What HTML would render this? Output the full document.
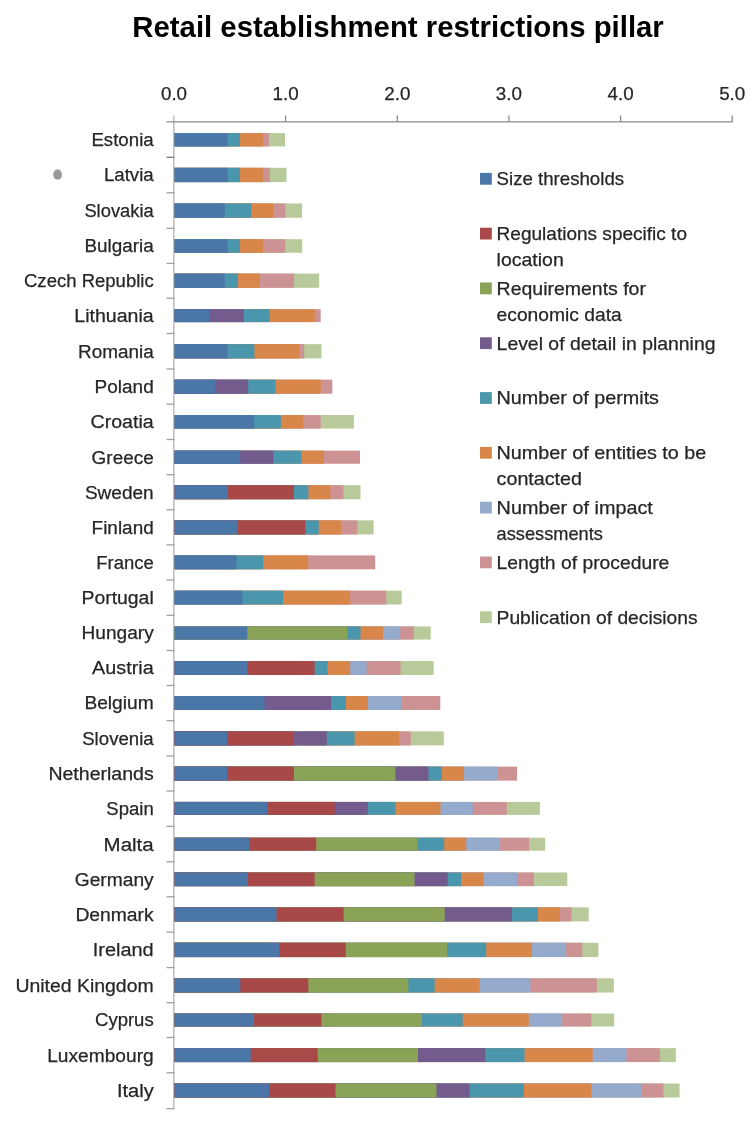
<!DOCTYPE html><html><head><meta charset="utf-8"><style>html,body{margin:0;padding:0;background:#fff;}svg{display:block;will-change:transform;}</style></head><body>
<svg width="754" height="1121" viewBox="0 0 754 1121" font-family="&quot;Liberation Sans&quot;, sans-serif">
<rect x="0" y="0" width="754" height="1121" fill="#fff"/>
<text x="132.3" y="37.3" font-size="30" font-weight="bold" fill="#000" textLength="531.5" lengthAdjust="spacingAndGlyphs">Retail establishment restrictions pillar</text>
<text x="174.0" y="100.3" font-size="18.8" fill="#262626" stroke="#262626" stroke-width="0.25" text-anchor="middle">0.0</text>
<text x="285.6" y="100.3" font-size="18.8" fill="#262626" stroke="#262626" stroke-width="0.25" text-anchor="middle">1.0</text>
<text x="397.3" y="100.3" font-size="18.8" fill="#262626" stroke="#262626" stroke-width="0.25" text-anchor="middle">2.0</text>
<text x="508.9" y="100.3" font-size="18.8" fill="#262626" stroke="#262626" stroke-width="0.25" text-anchor="middle">3.0</text>
<text x="620.6" y="100.3" font-size="18.8" fill="#262626" stroke="#262626" stroke-width="0.25" text-anchor="middle">4.0</text>
<text x="732.2" y="100.3" font-size="18.8" fill="#262626" stroke="#262626" stroke-width="0.25" text-anchor="middle">5.0</text>
<line x1="173.8" y1="115.5" x2="173.8" y2="1108.9" stroke="#b8b8b8" stroke-width="1.4"/>
<g stroke="#8c8c8c" stroke-width="1.3" fill="none">
<line x1="166.5" y1="121.9" x2="732.7" y2="121.9"/>
<line x1="285.6" y1="115.5" x2="285.6" y2="121.9"/>
<line x1="397.3" y1="115.5" x2="397.3" y2="121.9"/>
<line x1="508.9" y1="115.5" x2="508.9" y2="121.9"/>
<line x1="620.6" y1="115.5" x2="620.6" y2="121.9"/>
<line x1="732.2" y1="115.5" x2="732.2" y2="121.9"/>
</g>
<line x1="166.5" y1="157.3" x2="174.4" y2="157.3" stroke="#7a7a7a" stroke-width="1.3"/>
<line x1="166.5" y1="192.8" x2="174.4" y2="192.8" stroke="#a0a0a0" stroke-width="1.3"/>
<line x1="166.5" y1="228.3" x2="174.4" y2="228.3" stroke="#a0a0a0" stroke-width="1.3"/>
<line x1="166.5" y1="263.4" x2="174.4" y2="263.4" stroke="#a0a0a0" stroke-width="1.3"/>
<line x1="166.5" y1="298.2" x2="174.4" y2="298.2" stroke="#a0a0a0" stroke-width="1.3"/>
<line x1="166.5" y1="333.5" x2="174.4" y2="333.5" stroke="#a0a0a0" stroke-width="1.3"/>
<line x1="166.5" y1="369.0" x2="174.4" y2="369.0" stroke="#a0a0a0" stroke-width="1.3"/>
<line x1="166.5" y1="404.2" x2="174.4" y2="404.2" stroke="#a0a0a0" stroke-width="1.3"/>
<line x1="166.5" y1="439.5" x2="174.4" y2="439.5" stroke="#a0a0a0" stroke-width="1.3"/>
<line x1="166.5" y1="474.7" x2="174.4" y2="474.7" stroke="#a0a0a0" stroke-width="1.3"/>
<line x1="166.5" y1="509.8" x2="174.4" y2="509.8" stroke="#a0a0a0" stroke-width="1.3"/>
<line x1="166.5" y1="544.9" x2="174.4" y2="544.9" stroke="#a0a0a0" stroke-width="1.3"/>
<line x1="166.5" y1="580.0" x2="174.4" y2="580.0" stroke="#a0a0a0" stroke-width="1.3"/>
<line x1="166.5" y1="615.3" x2="174.4" y2="615.3" stroke="#a0a0a0" stroke-width="1.3"/>
<line x1="166.5" y1="650.5" x2="174.4" y2="650.5" stroke="#a0a0a0" stroke-width="1.3"/>
<line x1="166.5" y1="685.5" x2="174.4" y2="685.5" stroke="#a0a0a0" stroke-width="1.3"/>
<line x1="166.5" y1="720.7" x2="174.4" y2="720.7" stroke="#a0a0a0" stroke-width="1.3"/>
<line x1="166.5" y1="756.0" x2="174.4" y2="756.0" stroke="#a0a0a0" stroke-width="1.3"/>
<line x1="166.5" y1="791.0" x2="174.4" y2="791.0" stroke="#a0a0a0" stroke-width="1.3"/>
<line x1="166.5" y1="826.3" x2="174.4" y2="826.3" stroke="#a0a0a0" stroke-width="1.3"/>
<line x1="166.5" y1="861.8" x2="174.4" y2="861.8" stroke="#a0a0a0" stroke-width="1.3"/>
<line x1="166.5" y1="896.8" x2="174.4" y2="896.8" stroke="#a0a0a0" stroke-width="1.3"/>
<line x1="166.5" y1="932.1" x2="174.4" y2="932.1" stroke="#a0a0a0" stroke-width="1.3"/>
<line x1="166.5" y1="967.6" x2="174.4" y2="967.6" stroke="#a0a0a0" stroke-width="1.3"/>
<line x1="166.5" y1="1002.7" x2="174.4" y2="1002.7" stroke="#a0a0a0" stroke-width="1.3"/>
<line x1="166.5" y1="1037.5" x2="174.4" y2="1037.5" stroke="#a0a0a0" stroke-width="1.3"/>
<line x1="166.5" y1="1072.8" x2="174.4" y2="1072.8" stroke="#a0a0a0" stroke-width="1.3"/>
<line x1="166.5" y1="1108.7" x2="174.4" y2="1108.7" stroke="#a0a0a0" stroke-width="1.3"/>
<rect x="174.5" y="133.10" width="110.5" height="13.3" fill="#B8CA9A"/>
<rect x="174.5" y="133.10" width="94.5" height="13.3" fill="#CD9394"/>
<rect x="174.5" y="133.10" width="88.5" height="13.3" fill="#D8864A"/>
<rect x="174.5" y="133.10" width="65.5" height="13.3" fill="#4A97AD"/>
<rect x="174.5" y="133.10" width="53.2" height="13.3" fill="#4A76A8"/>
<text x="91.4" y="146.2" font-size="18.8" fill="#262626" stroke="#262626" stroke-width="0.25" textLength="62.3" lengthAdjust="spacingAndGlyphs">Estonia</text>
<rect x="174.5" y="167.80" width="112.0" height="14.3" fill="#B8CA9A"/>
<rect x="174.5" y="167.80" width="95.3" height="14.3" fill="#CD9394"/>
<rect x="174.5" y="167.80" width="88.5" height="14.3" fill="#D8864A"/>
<rect x="174.5" y="167.80" width="65.5" height="14.3" fill="#4A97AD"/>
<rect x="174.5" y="167.80" width="53.2" height="14.3" fill="#4A76A8"/>
<text x="103.9" y="181.3" font-size="18.8" fill="#262626" stroke="#262626" stroke-width="0.25" textLength="49.8" lengthAdjust="spacingAndGlyphs">Latvia</text>
<rect x="174.5" y="203.45" width="127.5" height="14.3" fill="#B8CA9A"/>
<rect x="174.5" y="203.45" width="110.8" height="14.3" fill="#CD9394"/>
<rect x="174.5" y="203.45" width="98.9" height="14.3" fill="#D8864A"/>
<rect x="174.5" y="203.45" width="76.8" height="14.3" fill="#4A97AD"/>
<rect x="174.5" y="203.45" width="50.3" height="14.3" fill="#4A76A8"/>
<text x="84.4" y="217.0" font-size="18.8" fill="#262626" stroke="#262626" stroke-width="0.25" textLength="69.3" lengthAdjust="spacingAndGlyphs">Slovakia</text>
<rect x="174.5" y="239.20" width="127.7" height="13.6" fill="#B8CA9A"/>
<rect x="174.5" y="239.20" width="110.7" height="13.6" fill="#CD9394"/>
<rect x="174.5" y="239.20" width="88.5" height="13.6" fill="#D8864A"/>
<rect x="174.5" y="239.20" width="65.5" height="13.6" fill="#4A97AD"/>
<rect x="174.5" y="239.20" width="53.2" height="13.6" fill="#4A76A8"/>
<text x="84.4" y="252.4" font-size="18.8" fill="#262626" stroke="#262626" stroke-width="0.25" textLength="69.3" lengthAdjust="spacingAndGlyphs">Bulgaria</text>
<rect x="174.5" y="273.60" width="144.7" height="14.2" fill="#B8CA9A"/>
<rect x="174.5" y="273.60" width="119.6" height="14.2" fill="#CD9394"/>
<rect x="174.5" y="273.60" width="85.5" height="14.2" fill="#D8864A"/>
<rect x="174.5" y="273.60" width="63.4" height="14.2" fill="#4A97AD"/>
<rect x="174.5" y="273.60" width="50.2" height="14.2" fill="#4A76A8"/>
<text x="24.0" y="287.1" font-size="18.8" fill="#262626" stroke="#262626" stroke-width="0.25" textLength="129.7" lengthAdjust="spacingAndGlyphs">Czech Republic</text>
<rect x="174.5" y="309.20" width="146.2" height="12.9" fill="#CD9394"/>
<rect x="174.5" y="309.20" width="140.4" height="12.9" fill="#D8864A"/>
<rect x="174.5" y="309.20" width="95.2" height="12.9" fill="#4A97AD"/>
<rect x="174.5" y="309.20" width="69.3" height="12.9" fill="#745B8E"/>
<rect x="174.5" y="309.20" width="35.4" height="12.9" fill="#4A76A8"/>
<text x="74.3" y="322.0" font-size="18.8" fill="#262626" stroke="#262626" stroke-width="0.25" textLength="79.4" lengthAdjust="spacingAndGlyphs">Lithuania</text>
<rect x="174.5" y="344.15" width="147.0" height="14.3" fill="#B8CA9A"/>
<rect x="174.5" y="344.15" width="129.7" height="14.3" fill="#CD9394"/>
<rect x="174.5" y="344.15" width="124.9" height="14.3" fill="#D8864A"/>
<rect x="174.5" y="344.15" width="79.9" height="14.3" fill="#4A97AD"/>
<rect x="174.5" y="344.15" width="53.1" height="14.3" fill="#4A76A8"/>
<text x="78.1" y="357.7" font-size="18.8" fill="#262626" stroke="#262626" stroke-width="0.25" textLength="75.6" lengthAdjust="spacingAndGlyphs">Romania</text>
<rect x="174.5" y="379.65" width="157.8" height="14.1" fill="#CD9394"/>
<rect x="174.5" y="379.65" width="146.2" height="14.1" fill="#D8864A"/>
<rect x="174.5" y="379.65" width="101.1" height="14.1" fill="#4A97AD"/>
<rect x="174.5" y="379.65" width="73.7" height="14.1" fill="#745B8E"/>
<rect x="174.5" y="379.65" width="40.6" height="14.1" fill="#4A76A8"/>
<text x="94.6" y="393.1" font-size="18.8" fill="#262626" stroke="#262626" stroke-width="0.25" textLength="59.1" lengthAdjust="spacingAndGlyphs">Poland</text>
<rect x="174.5" y="415.05" width="179.3" height="13.5" fill="#B8CA9A"/>
<rect x="174.5" y="415.05" width="146.2" height="13.5" fill="#CD9394"/>
<rect x="174.5" y="415.05" width="128.7" height="13.5" fill="#D8864A"/>
<rect x="174.5" y="415.05" width="106.4" height="13.5" fill="#4A97AD"/>
<rect x="174.5" y="415.05" width="79.6" height="13.5" fill="#4A76A8"/>
<text x="90.5" y="428.2" font-size="18.8" fill="#262626" stroke="#262626" stroke-width="0.25" textLength="63.2" lengthAdjust="spacingAndGlyphs">Croatia</text>
<rect x="174.5" y="450.65" width="185.5" height="13.1" fill="#CD9394"/>
<rect x="174.5" y="450.65" width="149.3" height="13.1" fill="#D8864A"/>
<rect x="174.5" y="450.65" width="127.0" height="13.1" fill="#4A97AD"/>
<rect x="174.5" y="450.65" width="98.8" height="13.1" fill="#745B8E"/>
<rect x="174.5" y="450.65" width="65.7" height="13.1" fill="#4A76A8"/>
<text x="91.6" y="463.6" font-size="18.8" fill="#262626" stroke="#262626" stroke-width="0.25" textLength="62.1" lengthAdjust="spacingAndGlyphs">Greece</text>
<rect x="174.5" y="485.20" width="186.0" height="14" fill="#B8CA9A"/>
<rect x="174.5" y="485.20" width="169.0" height="14" fill="#CD9394"/>
<rect x="174.5" y="485.20" width="155.9" height="14" fill="#D8864A"/>
<rect x="174.5" y="485.20" width="133.9" height="14" fill="#4A97AD"/>
<rect x="174.5" y="485.20" width="119.5" height="14" fill="#A94848"/>
<rect x="174.5" y="485.20" width="53.2" height="14" fill="#4A76A8"/>
<text x="84.9" y="498.6" font-size="18.8" fill="#262626" stroke="#262626" stroke-width="0.25" textLength="68.8" lengthAdjust="spacingAndGlyphs">Sweden</text>
<rect x="174.5" y="520.35" width="199.1" height="14.1" fill="#B8CA9A"/>
<rect x="174.5" y="520.35" width="183.0" height="14.1" fill="#CD9394"/>
<rect x="174.5" y="520.35" width="166.5" height="14.1" fill="#D8864A"/>
<rect x="174.5" y="520.35" width="144.2" height="14.1" fill="#4A97AD"/>
<rect x="174.5" y="520.35" width="130.9" height="14.1" fill="#A94848"/>
<rect x="174.5" y="520.35" width="63.5" height="14.1" fill="#4A76A8"/>
<text x="91.6" y="533.8" font-size="18.8" fill="#262626" stroke="#262626" stroke-width="0.25" textLength="62.1" lengthAdjust="spacingAndGlyphs">Finland</text>
<rect x="174.5" y="555.40" width="200.7" height="13.9" fill="#CD9394"/>
<rect x="174.5" y="555.40" width="133.7" height="13.9" fill="#D8864A"/>
<rect x="174.5" y="555.40" width="88.6" height="13.9" fill="#4A97AD"/>
<rect x="174.5" y="555.40" width="62.1" height="13.9" fill="#4A76A8"/>
<text x="96.2" y="568.8" font-size="18.8" fill="#262626" stroke="#262626" stroke-width="0.25" textLength="57.5" lengthAdjust="spacingAndGlyphs">France</text>
<rect x="174.5" y="590.70" width="227.2" height="13.8" fill="#B8CA9A"/>
<rect x="174.5" y="590.70" width="211.8" height="13.8" fill="#CD9394"/>
<rect x="174.5" y="590.70" width="175.6" height="13.8" fill="#D8864A"/>
<rect x="174.5" y="590.70" width="108.6" height="13.8" fill="#4A97AD"/>
<rect x="174.5" y="590.70" width="67.8" height="13.8" fill="#4A76A8"/>
<text x="81.5" y="604.0" font-size="18.8" fill="#262626" stroke="#262626" stroke-width="0.25" textLength="72.2" lengthAdjust="spacingAndGlyphs">Portugal</text>
<rect x="174.5" y="626.45" width="256.2" height="13.1" fill="#B8CA9A"/>
<rect x="174.5" y="626.45" width="239.3" height="13.1" fill="#CD9394"/>
<rect x="174.5" y="626.45" width="225.7" height="13.1" fill="#94ABCE"/>
<rect x="174.5" y="626.45" width="208.5" height="13.1" fill="#D8864A"/>
<rect x="174.5" y="626.45" width="186.0" height="13.1" fill="#4A97AD"/>
<rect x="174.5" y="626.45" width="172.7" height="13.1" fill="#8AA356"/>
<rect x="174.5" y="626.45" width="72.8" height="13.1" fill="#4A76A8"/>
<text x="81.5" y="639.4" font-size="18.8" fill="#262626" stroke="#262626" stroke-width="0.25" textLength="72.2" lengthAdjust="spacingAndGlyphs">Hungary</text>
<rect x="174.5" y="661.05" width="259.1" height="13.9" fill="#B8CA9A"/>
<rect x="174.5" y="661.05" width="226.0" height="13.9" fill="#CD9394"/>
<rect x="174.5" y="661.05" width="192.1" height="13.9" fill="#94ABCE"/>
<rect x="174.5" y="661.05" width="175.7" height="13.9" fill="#D8864A"/>
<rect x="174.5" y="661.05" width="153.0" height="13.9" fill="#4A97AD"/>
<rect x="174.5" y="661.05" width="140.1" height="13.9" fill="#A94848"/>
<rect x="174.5" y="661.05" width="72.8" height="13.9" fill="#4A76A8"/>
<text x="92.1" y="674.4" font-size="18.8" fill="#262626" stroke="#262626" stroke-width="0.25" textLength="61.6" lengthAdjust="spacingAndGlyphs">Austria</text>
<rect x="174.5" y="696.00" width="265.8" height="14" fill="#CD9394"/>
<rect x="174.5" y="696.00" width="226.6" height="14" fill="#94ABCE"/>
<rect x="174.5" y="696.00" width="193.5" height="14" fill="#D8864A"/>
<rect x="174.5" y="696.00" width="171.4" height="14" fill="#4A97AD"/>
<rect x="174.5" y="696.00" width="156.6" height="14" fill="#745B8E"/>
<rect x="174.5" y="696.00" width="90.0" height="14" fill="#4A76A8"/>
<text x="84.4" y="709.4" font-size="18.8" fill="#262626" stroke="#262626" stroke-width="0.25" textLength="69.3" lengthAdjust="spacingAndGlyphs">Belgium</text>
<rect x="174.5" y="731.40" width="269.3" height="14" fill="#B8CA9A"/>
<rect x="174.5" y="731.40" width="236.3" height="14" fill="#CD9394"/>
<rect x="174.5" y="731.40" width="224.5" height="14" fill="#D8864A"/>
<rect x="174.5" y="731.40" width="180.1" height="14" fill="#4A97AD"/>
<rect x="174.5" y="731.40" width="152.3" height="14" fill="#745B8E"/>
<rect x="174.5" y="731.40" width="119.4" height="14" fill="#A94848"/>
<rect x="174.5" y="731.40" width="53.1" height="14" fill="#4A76A8"/>
<text x="82.2" y="744.8" font-size="18.8" fill="#262626" stroke="#262626" stroke-width="0.25" textLength="71.5" lengthAdjust="spacingAndGlyphs">Slovenia</text>
<rect x="174.5" y="766.60" width="342.6" height="14" fill="#CD9394"/>
<rect x="174.5" y="766.60" width="323.2" height="14" fill="#94ABCE"/>
<rect x="174.5" y="766.60" width="289.6" height="14" fill="#D8864A"/>
<rect x="174.5" y="766.60" width="267.3" height="14" fill="#4A97AD"/>
<rect x="174.5" y="766.60" width="254.0" height="14" fill="#745B8E"/>
<rect x="174.5" y="766.60" width="220.9" height="14" fill="#8AA356"/>
<rect x="174.5" y="766.60" width="119.4" height="14" fill="#A94848"/>
<rect x="174.5" y="766.60" width="53.1" height="14" fill="#4A76A8"/>
<text x="48.4" y="780.0" font-size="18.8" fill="#262626" stroke="#262626" stroke-width="0.25" textLength="105.3" lengthAdjust="spacingAndGlyphs">Netherlands</text>
<rect x="174.5" y="801.95" width="365.4" height="12.9" fill="#B8CA9A"/>
<rect x="174.5" y="801.95" width="332.3" height="12.9" fill="#CD9394"/>
<rect x="174.5" y="801.95" width="298.3" height="12.9" fill="#94ABCE"/>
<rect x="174.5" y="801.95" width="266.0" height="12.9" fill="#D8864A"/>
<rect x="174.5" y="801.95" width="220.9" height="12.9" fill="#4A97AD"/>
<rect x="174.5" y="801.95" width="193.3" height="12.9" fill="#745B8E"/>
<rect x="174.5" y="801.95" width="160.2" height="12.9" fill="#A94848"/>
<rect x="174.5" y="801.95" width="93.1" height="12.9" fill="#4A76A8"/>
<text x="106.3" y="814.8" font-size="18.8" fill="#262626" stroke="#262626" stroke-width="0.25" textLength="47.4" lengthAdjust="spacingAndGlyphs">Spain</text>
<rect x="174.5" y="837.75" width="370.7" height="12.9" fill="#B8CA9A"/>
<rect x="174.5" y="837.75" width="354.5" height="12.9" fill="#CD9394"/>
<rect x="174.5" y="837.75" width="325.1" height="12.9" fill="#94ABCE"/>
<rect x="174.5" y="837.75" width="291.7" height="12.9" fill="#D8864A"/>
<rect x="174.5" y="837.75" width="269.7" height="12.9" fill="#4A97AD"/>
<rect x="174.5" y="837.75" width="242.9" height="12.9" fill="#8AA356"/>
<rect x="174.5" y="837.75" width="141.7" height="12.9" fill="#A94848"/>
<rect x="174.5" y="837.75" width="75.1" height="12.9" fill="#4A76A8"/>
<text x="103.6" y="850.6" font-size="18.8" fill="#262626" stroke="#262626" stroke-width="0.25" textLength="50.1" lengthAdjust="spacingAndGlyphs">Malta</text>
<rect x="174.5" y="872.50" width="392.8" height="13.6" fill="#B8CA9A"/>
<rect x="174.5" y="872.50" width="359.5" height="13.6" fill="#CD9394"/>
<rect x="174.5" y="872.50" width="342.8" height="13.6" fill="#94ABCE"/>
<rect x="174.5" y="872.50" width="308.9" height="13.6" fill="#D8864A"/>
<rect x="174.5" y="872.50" width="286.6" height="13.6" fill="#4A97AD"/>
<rect x="174.5" y="872.50" width="273.2" height="13.6" fill="#745B8E"/>
<rect x="174.5" y="872.50" width="240.0" height="13.6" fill="#8AA356"/>
<rect x="174.5" y="872.50" width="140.1" height="13.6" fill="#A94848"/>
<rect x="174.5" y="872.50" width="73.0" height="13.6" fill="#4A76A8"/>
<text x="74.7" y="885.7" font-size="18.8" fill="#262626" stroke="#262626" stroke-width="0.25" textLength="79.0" lengthAdjust="spacingAndGlyphs">Germany</text>
<rect x="174.5" y="907.40" width="414.2" height="14" fill="#B8CA9A"/>
<rect x="174.5" y="907.40" width="397.1" height="14" fill="#CD9394"/>
<rect x="174.5" y="907.40" width="385.5" height="14" fill="#D8864A"/>
<rect x="174.5" y="907.40" width="363.5" height="14" fill="#4A97AD"/>
<rect x="174.5" y="907.40" width="337.6" height="14" fill="#745B8E"/>
<rect x="174.5" y="907.40" width="270.2" height="14" fill="#8AA356"/>
<rect x="174.5" y="907.40" width="169.1" height="14" fill="#A94848"/>
<rect x="174.5" y="907.40" width="102.0" height="14" fill="#4A76A8"/>
<text x="75.4" y="920.8" font-size="18.8" fill="#262626" stroke="#262626" stroke-width="0.25" textLength="78.3" lengthAdjust="spacingAndGlyphs">Denmark</text>
<rect x="174.5" y="942.75" width="423.9" height="14.3" fill="#B8CA9A"/>
<rect x="174.5" y="942.75" width="407.8" height="14.3" fill="#CD9394"/>
<rect x="174.5" y="942.75" width="391.6" height="14.3" fill="#94ABCE"/>
<rect x="174.5" y="942.75" width="357.4" height="14.3" fill="#D8864A"/>
<rect x="174.5" y="942.75" width="311.7" height="14.3" fill="#4A97AD"/>
<rect x="174.5" y="942.75" width="272.6" height="14.3" fill="#8AA356"/>
<rect x="174.5" y="942.75" width="171.2" height="14.3" fill="#A94848"/>
<rect x="174.5" y="942.75" width="104.7" height="14.3" fill="#4A76A8"/>
<text x="92.8" y="956.3" font-size="18.8" fill="#262626" stroke="#262626" stroke-width="0.25" textLength="60.9" lengthAdjust="spacingAndGlyphs">Ireland</text>
<rect x="174.5" y="978.30" width="439.3" height="14.2" fill="#B8CA9A"/>
<rect x="174.5" y="978.30" width="422.4" height="14.2" fill="#CD9394"/>
<rect x="174.5" y="978.30" width="355.9" height="14.2" fill="#94ABCE"/>
<rect x="174.5" y="978.30" width="305.1" height="14.2" fill="#D8864A"/>
<rect x="174.5" y="978.30" width="260.1" height="14.2" fill="#4A97AD"/>
<rect x="174.5" y="978.30" width="233.9" height="14.2" fill="#8AA356"/>
<rect x="174.5" y="978.30" width="133.8" height="14.2" fill="#A94848"/>
<rect x="174.5" y="978.30" width="65.8" height="14.2" fill="#4A76A8"/>
<text x="15.4" y="991.8" font-size="18.8" fill="#262626" stroke="#262626" stroke-width="0.25" textLength="138.3" lengthAdjust="spacingAndGlyphs">United Kingdom</text>
<rect x="174.5" y="1013.55" width="439.7" height="12.9" fill="#B8CA9A"/>
<rect x="174.5" y="1013.55" width="416.7" height="12.9" fill="#CD9394"/>
<rect x="174.5" y="1013.55" width="387.8" height="12.9" fill="#94ABCE"/>
<rect x="174.5" y="1013.55" width="354.3" height="12.9" fill="#D8864A"/>
<rect x="174.5" y="1013.55" width="288.2" height="12.9" fill="#4A97AD"/>
<rect x="174.5" y="1013.55" width="247.3" height="12.9" fill="#8AA356"/>
<rect x="174.5" y="1013.55" width="146.9" height="12.9" fill="#A94848"/>
<rect x="174.5" y="1013.55" width="79.6" height="12.9" fill="#4A76A8"/>
<text x="95.0" y="1026.4" font-size="18.8" fill="#262626" stroke="#262626" stroke-width="0.25" textLength="58.7" lengthAdjust="spacingAndGlyphs">Cyprus</text>
<rect x="174.5" y="1048.15" width="501.3" height="13.9" fill="#B8CA9A"/>
<rect x="174.5" y="1048.15" width="485.5" height="13.9" fill="#CD9394"/>
<rect x="174.5" y="1048.15" width="452.0" height="13.9" fill="#94ABCE"/>
<rect x="174.5" y="1048.15" width="418.2" height="13.9" fill="#D8864A"/>
<rect x="174.5" y="1048.15" width="350.1" height="13.9" fill="#4A97AD"/>
<rect x="174.5" y="1048.15" width="310.9" height="13.9" fill="#745B8E"/>
<rect x="174.5" y="1048.15" width="243.5" height="13.9" fill="#8AA356"/>
<rect x="174.5" y="1048.15" width="143.1" height="13.9" fill="#A94848"/>
<rect x="174.5" y="1048.15" width="76.2" height="13.9" fill="#4A76A8"/>
<text x="47.2" y="1061.5" font-size="18.8" fill="#262626" stroke="#262626" stroke-width="0.25" textLength="106.5" lengthAdjust="spacingAndGlyphs">Luxembourg</text>
<rect x="174.5" y="1083.50" width="505.1" height="14" fill="#B8CA9A"/>
<rect x="174.5" y="1083.50" width="489.0" height="14" fill="#CD9394"/>
<rect x="174.5" y="1083.50" width="467.0" height="14" fill="#94ABCE"/>
<rect x="174.5" y="1083.50" width="416.7" height="14" fill="#D8864A"/>
<rect x="174.5" y="1083.50" width="349.3" height="14" fill="#4A97AD"/>
<rect x="174.5" y="1083.50" width="295.1" height="14" fill="#745B8E"/>
<rect x="174.5" y="1083.50" width="262.0" height="14" fill="#8AA356"/>
<rect x="174.5" y="1083.50" width="161.0" height="14" fill="#A94848"/>
<rect x="174.5" y="1083.50" width="94.5" height="14" fill="#4A76A8"/>
<text x="116.9" y="1096.9" font-size="18.8" fill="#262626" stroke="#262626" stroke-width="0.25" textLength="36.8" lengthAdjust="spacingAndGlyphs">Italy</text>
<rect x="480.0" y="172.9" width="11.8" height="11.8" fill="#4A76A8"/>
<text x="496.6" y="185.2" font-size="18.2" fill="#262626" stroke="#262626" stroke-width="0.25" textLength="127.5" lengthAdjust="spacingAndGlyphs">Size thresholds</text>
<rect x="480.0" y="227.7" width="11.8" height="11.8" fill="#A94848"/>
<text x="496.6" y="240.0" font-size="18.2" fill="#262626" stroke="#262626" stroke-width="0.25" textLength="190.4" lengthAdjust="spacingAndGlyphs">Regulations specific to</text>
<text x="496.6" y="266.2" font-size="18.2" fill="#262626" stroke="#262626" stroke-width="0.25" textLength="67.2" lengthAdjust="spacingAndGlyphs">location</text>
<rect x="480.0" y="282.5" width="11.8" height="11.8" fill="#8AA356"/>
<text x="496.6" y="294.8" font-size="18.2" fill="#262626" stroke="#262626" stroke-width="0.25" textLength="149.3" lengthAdjust="spacingAndGlyphs">Requirements for</text>
<text x="496.6" y="321.0" font-size="18.2" fill="#262626" stroke="#262626" stroke-width="0.25" textLength="125.1" lengthAdjust="spacingAndGlyphs">economic data</text>
<rect x="480.0" y="337.3" width="11.8" height="11.8" fill="#745B8E"/>
<text x="496.6" y="349.6" font-size="18.2" fill="#262626" stroke="#262626" stroke-width="0.25" textLength="218.9" lengthAdjust="spacingAndGlyphs">Level of detail in planning</text>
<rect x="480.0" y="392.1" width="11.8" height="11.8" fill="#4A97AD"/>
<text x="496.6" y="404.4" font-size="18.2" fill="#262626" stroke="#262626" stroke-width="0.25" textLength="162.4" lengthAdjust="spacingAndGlyphs">Number of permits</text>
<rect x="480.0" y="446.9" width="11.8" height="11.8" fill="#D8864A"/>
<text x="496.6" y="459.2" font-size="18.2" fill="#262626" stroke="#262626" stroke-width="0.25" textLength="209.6" lengthAdjust="spacingAndGlyphs">Number of entities to be</text>
<text x="496.6" y="485.4" font-size="18.2" fill="#262626" stroke="#262626" stroke-width="0.25" textLength="85.4" lengthAdjust="spacingAndGlyphs">contacted</text>
<rect x="480.0" y="501.7" width="11.8" height="11.8" fill="#94ABCE"/>
<text x="496.6" y="514.0" font-size="18.2" fill="#262626" stroke="#262626" stroke-width="0.25" textLength="156.2" lengthAdjust="spacingAndGlyphs">Number of impact</text>
<text x="496.6" y="540.2" font-size="18.2" fill="#262626" stroke="#262626" stroke-width="0.25" textLength="106.2" lengthAdjust="spacingAndGlyphs">assessments</text>
<rect x="480.0" y="556.5" width="11.8" height="11.8" fill="#CD9394"/>
<text x="496.6" y="568.8" font-size="18.2" fill="#262626" stroke="#262626" stroke-width="0.25" textLength="172.7" lengthAdjust="spacingAndGlyphs">Length of procedure</text>
<rect x="480.0" y="611.3" width="11.8" height="11.8" fill="#B8CA9A"/>
<text x="496.6" y="623.6" font-size="18.2" fill="#262626" stroke="#262626" stroke-width="0.25" textLength="201.0" lengthAdjust="spacingAndGlyphs">Publication of decisions</text>
<ellipse cx="57.6" cy="174.6" rx="4.4" ry="5.1" fill="#999"/>
</svg></body></html>
